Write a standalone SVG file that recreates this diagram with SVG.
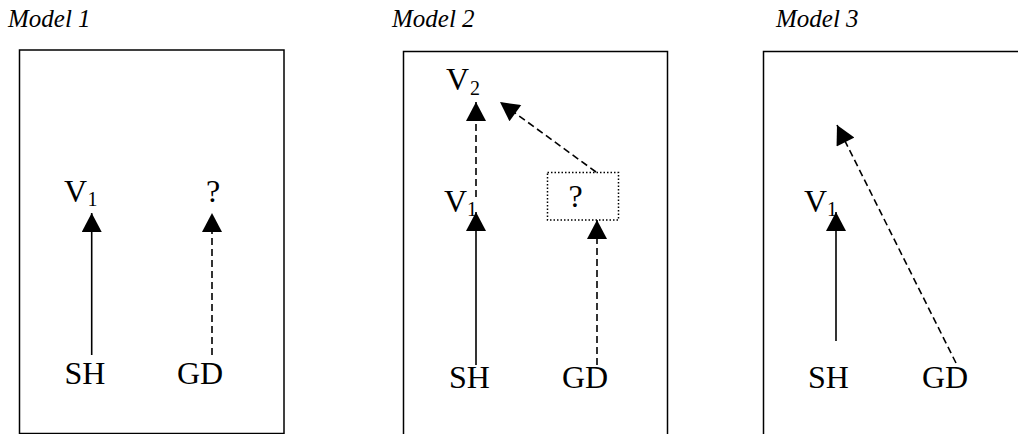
<svg xmlns="http://www.w3.org/2000/svg" width="1018" height="434" viewBox="0 0 1018 434">
<style>
text{font-family:"Liberation Serif","Times New Roman",serif;fill:#000}
.title{font-size:25px;font-style:italic}
.lbl{font-size:32px}
.sub{font-size:20px}
.frame{fill:none;stroke:#000;stroke-width:1.5}
.solid{stroke:#000;stroke-width:1.6;fill:none}
.dash{stroke:#000;stroke-width:1.6;fill:none;stroke-dasharray:7 4}
.dot{fill:none;stroke:#000;stroke-width:1.5;stroke-dasharray:1.5 2}
</style>
<defs>
<marker id="ah" markerUnits="userSpaceOnUse" markerWidth="20" markerHeight="20" viewBox="0 0 19 20" refX="19" refY="10" orient="auto">
<path d="M0,0 L19,10 L0,20 Z" fill="#000"/>
</marker>
</defs>
<rect width="1018" height="434" fill="#fff"/>
<g id="model1">
<text class="title" x="8" y="27">Model 1</text>
<rect class="frame" x="19.5" y="50" width="264.5" height="383.5"/>
<g id="m1-v1"><text class="lbl" x="64" y="202">V</text><text class="sub" x="87.5" y="206">1</text></g>
<g id="m1-q"><text class="lbl" x="206" y="202">?</text></g>
<g id="m1-sh"><text class="lbl" x="64.5" y="384">SH</text></g>
<g id="m1-gd"><text class="lbl" x="177" y="384">GD</text></g>
</g>
<g id="model2">
<text class="title" x="392" y="27">Model 2</text>
<rect class="frame" x="403.5" y="51.5" width="264" height="400"/>
<g id="m2-v2"><text class="lbl" x="446" y="90">V</text><text class="sub" x="470" y="95">2</text></g>
<g id="m2-v1"><text class="lbl" x="444" y="212">V</text><text class="sub" x="467" y="216">1</text></g>
<g id="m2-q"><rect class="dot" x="547.5" y="172.5" width="71" height="47.5"/><text class="lbl" x="568.5" y="207">?</text></g>
<g id="m2-sh"><text class="lbl" x="449" y="388">SH</text></g>
<g id="m2-gd"><text class="lbl" x="562" y="388">GD</text></g>
</g>
<g id="model3">
<text class="title" x="776" y="27">Model 3</text>
<rect class="frame" x="763.5" y="51.5" width="300" height="400"/>
<g id="m3-v1"><text class="lbl" x="804" y="212">V</text><text class="sub" x="827" y="216">1</text></g>
<g id="m3-sh"><text class="lbl" x="808" y="388">SH</text></g>
<g id="m3-gd"><text class="lbl" x="922" y="388">GD</text></g>
</g>
<g id="connectors">
<line class="solid" x1="91.7" y1="355" x2="91.7" y2="213" marker-end="url(#ah)"/>
<line class="dash" x1="212" y1="355" x2="212" y2="213" marker-end="url(#ah)"/>
<line class="solid" x1="476" y1="365" x2="476" y2="212" marker-end="url(#ah)"/>
<line class="dash" x1="476" y1="197" x2="476" y2="102" marker-end="url(#ah)"/>
<line class="dash" x1="597" y1="365" x2="597" y2="220" marker-end="url(#ah)"/>
<line class="dash" x1="596" y1="172" x2="500" y2="102" marker-end="url(#ah)"/>
<line class="solid" x1="836" y1="341" x2="836" y2="212" marker-end="url(#ah)"/>
<line class="dash" x1="956" y1="363" x2="837" y2="125" marker-end="url(#ah)"/>
</g>
</svg>
